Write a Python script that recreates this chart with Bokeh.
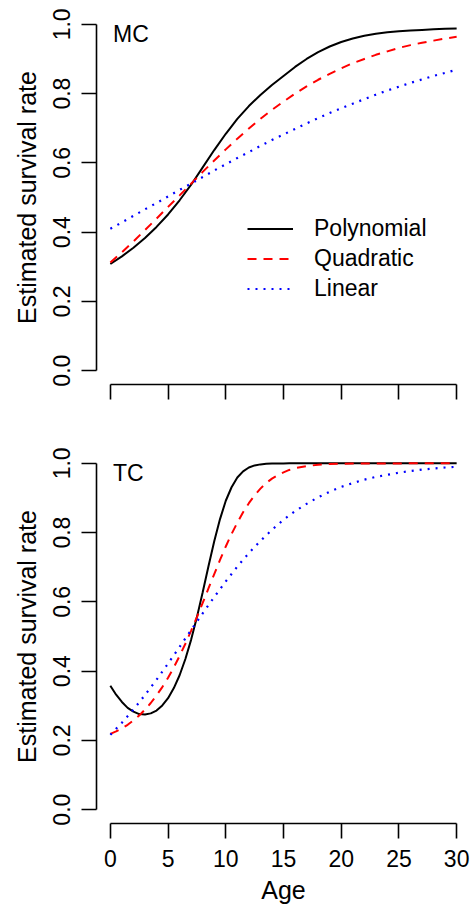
from bokeh.plotting import figure
from bokeh.layouts import column
from bokeh.models import Legend, LegendItem, Label, FixedTicker, NumeralTickFormatter, Range1d
from bokeh.embed import file_html
from bokeh.resources import INLINE

# ---------------- data ----------------
age = list(range(31))

mc_poly = [0.308, 0.330, 0.355, 0.383, 0.415, 0.451, 0.492, 0.537, 0.587, 0.637,
           0.684, 0.727, 0.764, 0.796, 0.825, 0.851, 0.877, 0.900, 0.920, 0.936,
           0.949, 0.959, 0.967, 0.973, 0.977, 0.980, 0.982, 0.984, 0.9855, 0.987, 0.988]
mc_quad = [0.312, 0.342, 0.373, 0.406, 0.439, 0.473, 0.506, 0.540, 0.574, 0.607,
           0.639, 0.670, 0.699, 0.727, 0.753, 0.777, 0.800, 0.821, 0.840, 0.857,
           0.873, 0.888, 0.900, 0.912, 0.922, 0.932, 0.940, 0.947, 0.953, 0.959, 0.964]
mc_lin = [0.410, 0.428, 0.447, 0.466, 0.484, 0.503, 0.522, 0.540, 0.559, 0.578,
          0.596, 0.614, 0.631, 0.649, 0.666, 0.682, 0.698, 0.714, 0.729, 0.744,
          0.758, 0.771, 0.784, 0.797, 0.809, 0.820, 0.831, 0.841, 0.851, 0.860, 0.869]

tc_age = [0, 0.5, 1, 1.5, 2, 2.5, 3, 3.5, 4, 4.5, 5, 5.5, 6, 6.5, 7, 7.5, 8, 8.5,
          9, 9.5, 10, 10.5, 11, 11.5, 12, 12.5, 13, 13.5, 14, 14.5, 15, 15.5, 16,
          17, 18, 19, 20, 21, 22, 23, 24, 25, 26, 27, 28, 29, 30]
tc_poly = [0.358, 0.332, 0.311, 0.294, 0.283, 0.276, 0.275, 0.278, 0.286, 0.301,
           0.322, 0.351, 0.388, 0.435, 0.491, 0.556, 0.628, 0.703, 0.775, 0.839,
           0.892, 0.931, 0.959, 0.977, 0.988, 0.994, 0.997, 0.9986, 0.9994, 0.9997,
           0.9999, 1.0, 1.0, 1.0, 1.0, 1.0, 1.0, 1.0, 1.0, 1.0, 1.0, 1.0, 1.0, 1.0,
           1.0, 1.0, 1.0]
tc_quad = [0.219, 0.226, 0.235, 0.245, 0.258, 0.272, 0.289, 0.308, 0.330, 0.354,
           0.381, 0.411, 0.444, 0.479, 0.517, 0.556, 0.597, 0.639, 0.680, 0.721,
           0.760, 0.796, 0.829, 0.859, 0.885, 0.908, 0.927, 0.943, 0.956, 0.966,
           0.974, 0.981, 0.986, 0.992, 0.996, 0.998, 0.999, 0.9995, 0.9997, 0.9998,
           0.9999, 0.9999, 1.0, 1.0, 1.0, 1.0, 1.0]
tc_lin = [0.216, 0.251, 0.289, 0.331, 0.375, 0.422, 0.470, 0.519, 0.567, 0.614,
          0.659, 0.702, 0.741, 0.776, 0.808, 0.837, 0.862, 0.883, 0.902, 0.918,
          0.932, 0.943, 0.953, 0.961, 0.967, 0.973, 0.978, 0.982, 0.985, 0.988, 0.990]

x_ticks = [0, 5, 10, 15, 20, 25, 30]
y_ticks = [0.0, 0.2, 0.4, 0.6, 0.8, 1.0]
series_names = ["Polynomial", "Quadratic", "Linear"]
panel_names = ["MC", "TC"]
y_title = "Estimated survival rate"
x_title = "Age"

FONT = "Liberation Sans"
W = 473


def make_panel(height, min_top, min_bottom, show_x_labels):
    p = figure(width=W, height=height, output_backend="svg", toolbar_location=None,
               x_range=Range1d(-1.2, 31.2), y_range=Range1d(-0.04, 1.04),
               min_border_left=96, min_border_right=3, min_border_top=min_top,
               min_border_bottom=min_bottom)
    p.outline_line_color = None
    p.grid.visible = False
    p.background_fill_color = "white"
    p.border_fill_color = "white"

    xa = p.xaxis[0]
    xa.bounds = (0, 30)
    xa.axis_line_width = 1.6
    xa.axis_line_color = "black"
    xa.major_tick_line_width = 1.6
    xa.minor_tick_line_width = 1.6
    xa.major_tick_line_color = "black"
    xa.minor_tick_line_color = "black"
    xa.major_tick_in = 0
    xa.minor_tick_in = 0
    if show_x_labels:
        xa.ticker = FixedTicker(ticks=x_ticks)
        xa.major_tick_out = 15
        xa.minor_tick_out = 0
        xa.major_label_standoff = 11
        xa.major_label_text_font = FONT
        xa.major_label_text_color = "black"
        xa.major_label_text_font_size = "23px"
        xa.axis_label = x_title
        xa.axis_label_text_font = FONT
        xa.axis_label_text_font_size = "25px"
        xa.axis_label_text_font_style = "normal"
        xa.axis_label_text_color = "black"
        xa.axis_label_standoff = 6
    else:
        # tick marks only, no labels
        xa.ticker = FixedTicker(ticks=[], minor_ticks=x_ticks)
        xa.major_tick_out = 0
        xa.minor_tick_out = 15

    ya = p.yaxis[0]
    ya.ticker = FixedTicker(ticks=y_ticks)
    ya.formatter = NumeralTickFormatter(format="0.0")
    ya.bounds = (0, 1)
    ya.axis_line_width = 1.6
    ya.axis_line_color = "black"
    ya.major_tick_line_width = 1.6
    ya.major_tick_line_color = "black"
    ya.major_tick_out = 15
    ya.major_tick_in = 0
    ya.minor_tick_out = 0
    ya.minor_tick_in = 0
    ya.major_label_orientation = "vertical"
    ya.major_label_standoff = 11
    ya.major_label_text_font = FONT
    ya.major_label_text_font_size = "23px"
    ya.major_label_text_color = "black"
    ya.axis_label = y_title
    ya.axis_label_text_font = FONT
    ya.axis_label_text_font_size = "25px"
    ya.axis_label_text_font_style = "normal"
    ya.axis_label_text_color = "black"
    ya.axis_label_standoff = 10
    return p


def add_lines(p, x_fine, poly, quad, x_lin, lin):
    r1 = p.line(x_fine, poly, line_color="black", line_width=2)
    r2 = p.line(x_fine, quad, line_color="red", line_width=2, line_dash="9 7")
    r3 = p.line(x_lin, lin, line_color="blue", line_width=2.2, line_dash="2 6")
    return [r1, r2, r3]


p1 = make_panel(439, 10, 55, False)
rs = add_lines(p1, age, mc_poly, mc_quad, age, mc_lin)
legend = Legend(items=[LegendItem(label=n, renderers=[r]) for n, r in zip(series_names, rs)],
                location=(151, 81), padding=0, margin=0, spacing=1,
                glyph_width=46, glyph_height=29, label_height=29, label_standoff=21,
                label_text_font=FONT, label_text_font_size="23px", label_text_color="black",
                border_line_color=None, background_fill_alpha=0)
p1.add_layout(legend, "center")
p1.add_layout(Label(x=16.5, y=350.5, x_units="screen", y_units="screen", text=panel_names[0],
                    text_font=FONT, text_font_size="23px", text_color="black",
                    text_baseline="alphabetic"))

p2 = make_panel(468, 10, 84, True)
add_lines(p2, tc_age, tc_poly, tc_quad, age, tc_lin)
p2.add_layout(Label(x=16.5, y=351, x_units="screen", y_units="screen", text=panel_names[1],
                    text_font=FONT, text_font_size="23px", text_color="black",
                    text_baseline="alphabetic"))

layout = column(p1, p2, spacing=0)
open("out.html", "w").write(file_html(layout, INLINE))
